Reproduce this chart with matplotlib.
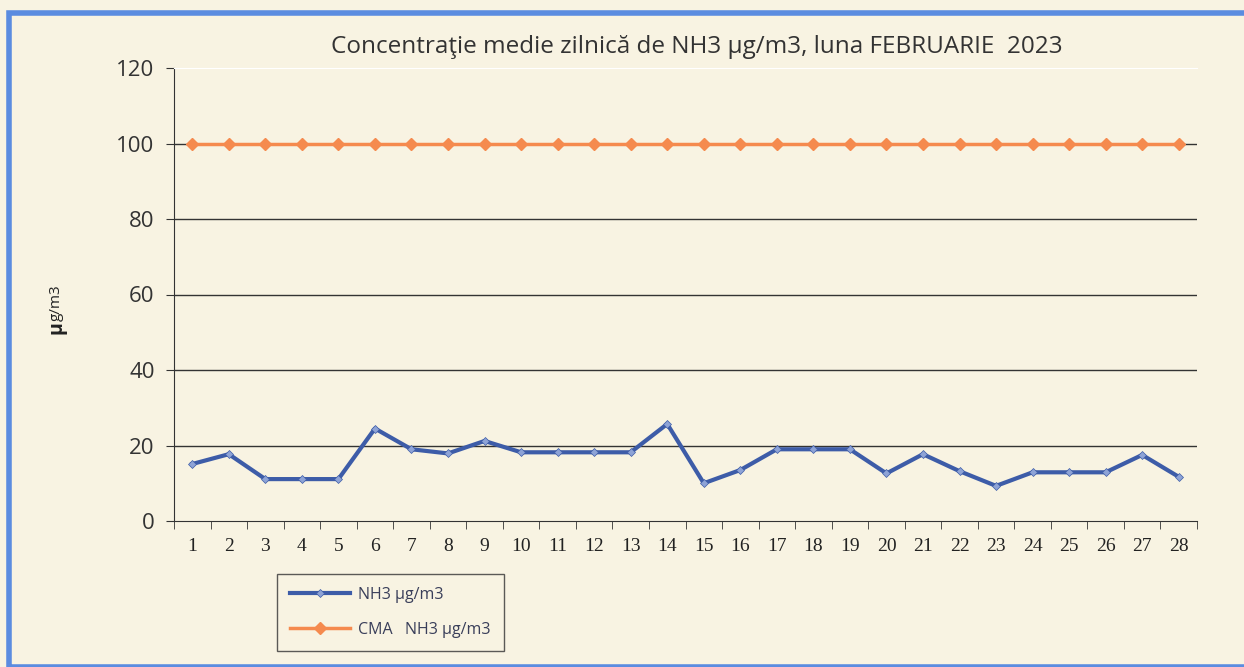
import matplotlib.pyplot as plt
from matplotlib.patches import Rectangle

# Data
days = list(range(1, 29))
nh3 = [15.1, 17.7, 11.1, 11.1, 11.1, 24.5, 19.0, 17.9, 21.2, 18.2,
       18.2, 18.2, 18.2, 25.7, 10.0, 13.5, 19.0, 19.0, 19.0, 12.6,
       17.7, 13.2, 9.3, 12.9, 12.9, 12.9, 17.5, 11.7]
cma = [100] * 28
yticks = [0, 20, 40, 60, 80, 100, 120]

bg = '#f8f3e2'
blue = '#3d5ca8'
orange = '#f58a4e'

fig = plt.figure(figsize=(12.44, 6.67), dpi=100)
fig.patch.set_facecolor(bg)

# blue frame around the chart
fig.patches.append(Rectangle((9 / 1244, 0), 1.2, 1 - 13 / 667, transform=fig.transFigure,
                             fill=False, edgecolor='#5b8ce0', linewidth=4))

ax = fig.add_axes([174 / 1244, 1 - 521 / 667, (1197 - 174) / 1244, (521 - 68) / 667])
ax.set_facecolor(bg)

for y in yticks[1:-1]:
    ax.axhline(y, color='#333333', linewidth=1, zorder=1)

line1, = ax.plot(days, nh3, color=blue, linewidth=3, marker='D', markersize=4,
                 markerfacecolor='#8ea3d6', markeredgecolor=blue, markeredgewidth=0.5,
                 zorder=3, label='NH3 µg/m3')
line2, = ax.plot(days, cma, color=orange, linewidth=2.5, marker='D', markersize=6,
                 markerfacecolor=orange, markeredgecolor=orange, zorder=3,
                 label='CMA   NH3 µg/m3')

ax.set_xlim(0.5, 28.5)
ax.set_ylim(0, 120)
ax.set_yticks(yticks)
ax.set_xticks(days)
ax.set_xticks([d + 0.5 for d in [0] + days], minor=True)
ax.tick_params(axis='x', which='major', length=0, pad=12, labelsize=14)
ax.tick_params(axis='x', which='minor', length=6, direction='out', color='#333333')
ax.tick_params(axis='y', length=6, direction='out', color='#333333', labelsize=16,
               labelcolor='#333333', pad=8)
for lab in ax.get_xticklabels():
    lab.set_fontfamily('Liberation Serif')
    lab.set_color('#222222')
for lab in ax.get_yticklabels():
    lab.set_fontfamily('Open Sans')

ax.spines['top'].set_color('white')
ax.spines['right'].set_visible(False)
ax.spines['left'].set_color('#333333')
ax.spines['bottom'].set_color('#333333')

fig.text(697 / 1244, 1 - 47 / 667, 'Concentraţie medie zilnică de NH3 µg/m3, luna FEBRUARIE  2023',
         ha='center', va='center', fontsize=17.5, family='Open Sans', color='#333333')
fig.text(56 / 1244, 1 - 334 / 667, 'µ', rotation=90, ha='center', va='bottom',
         fontsize=14, fontweight='bold', family='Open Sans', color='#222222')
fig.text(56 / 1244, 1 - 321 / 667, 'g/m3', rotation=90, ha='center', va='bottom',
         fontsize=11, family='Open Sans', color='#222222')

leg = fig.legend(handles=[line1, line2], loc='upper left',
                 bbox_to_anchor=(277 / 1244, 1 - 574 / 667), borderaxespad=0,
                 frameon=True, fancybox=False, edgecolor='#333333', facecolor=bg,
                 prop={'family': 'Open Sans', 'size': 11.5}, labelspacing=1.2,
                 handlelength=3.8, handletextpad=0.5, borderpad=0.8)
leg.get_frame().set_linewidth(1)
for t in leg.get_texts():
    t.set_color('#3a3f5a')

fig.savefig('out.png', dpi=100, facecolor=bg)
